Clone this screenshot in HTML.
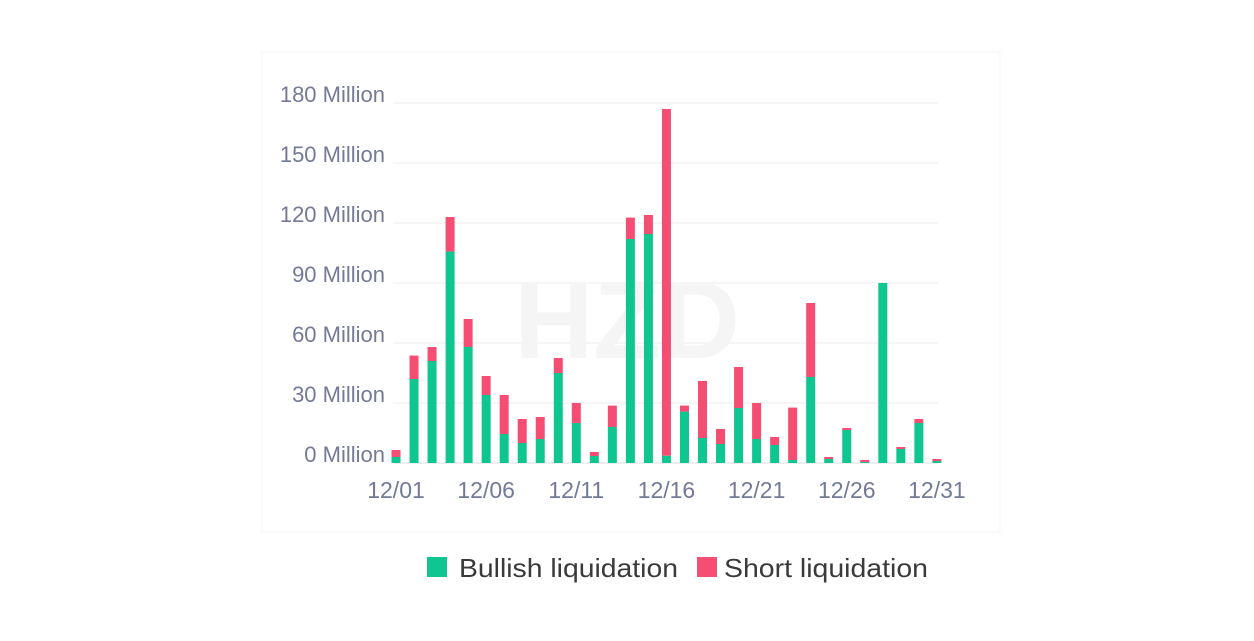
<!DOCTYPE html>
<html><head><meta charset="utf-8"><style>
html,body{margin:0;padding:0;background:#fff;}
svg{display:block;font-family:"Liberation Sans",sans-serif;}
</style></head><body>
<svg id="chart" width="1254" height="641">
  <rect x="262" y="52" width="738" height="480" fill="none" stroke="#fafafa" stroke-width="2"/>
  <text x="627" y="358" text-anchor="middle" font-size="110" font-weight="bold" fill="#f5f5f5">HZD</text>
  <g id="grid"></g>
  <g id="ylabels"></g>
  <g id="bars"></g>
  <g id="xlabels"></g>
  <g>
    <g>
      <rect x="427" y="557" width="20" height="20" fill="#0fc691"/>
      <text x="459" y="577" font-size="26" fill="#3a3a3a" textLength="219" lengthAdjust="spacingAndGlyphs">Bullish liquidation</text>
    </g>
    <g>
      <rect x="697" y="557" width="20" height="20" fill="#f64d72"/>
      <text x="724" y="577" font-size="26" fill="#3a3a3a" textLength="204" lengthAdjust="spacingAndGlyphs">Short liquidation</text>
    </g>
  </g>
</svg>
<script>
const days = ["12/01","12/02","12/03","12/04","12/05","12/06","12/07","12/08","12/09","12/10","12/11","12/12","12/13","12/14","12/15","12/16","12/17","12/18","12/19","12/20","12/21","12/22","12/23","12/24","12/25","12/26","12/27","12/28","12/29","12/30","12/31"];
const bullish = [3,42,51,105.7,58,34,14.5,10,12,45,20,3.5,18,112,114.5,3.6,25.7,12.5,9.5,27.5,12,9,1.5,43,2,16.5,0.5,90,7,20,1];
const totals = [6.5,53.7,58,123,72,43.5,34,22,23,52.5,30,5.5,28.7,122.7,124,177,28.7,41,17,48,30,13,27.7,80,3,17.5,1.5,90,8,22,2];
const yTicks = [0,30,60,90,120,150,180];
const xTickEvery = 5;

const NS="http://www.w3.org/2000/svg";
const y0=463, pxPerM=2, x0=396, step=18.03, bw=9;
const yScale=v=>y0-v*pxPerM;
const xScale=i=>x0+i*step;
function mk(tag,attrs,parent){const e=document.createElementNS(NS,tag);for(const k in attrs)e.setAttribute(k,attrs[k]);parent.appendChild(e);return e;}
const grid=document.getElementById('grid'),yl=document.getElementById('ylabels'),bars=document.getElementById('bars'),xl=document.getElementById('xlabels');
yTicks.forEach(t=>{
  const l=mk('line',{x1:393,x2:938,y1:yScale(t),y2:yScale(t),stroke:t===0?'#eeeeee':'#f5f5f5','stroke-width':2},grid);
  
  
  const tx=mk('text',{x:385,y:yScale(t)-1,'text-anchor':'end','font-size':22,fill:'#737a98'},yl);
  tx.textContent=t+' Million';
  
  
});
days.forEach((d,i)=>{
  const cx=xScale(i);
  const g=bullish[i], s=Math.max(0,totals[i]-g);
  const rs=mk('rect',{x:cx-bw/2,y:yScale(g+s),width:bw,height:s*pxPerM,fill:'#f64d72'},bars);
  
  
  const rg=mk('rect',{x:cx-bw/2,y:yScale(g),width:bw,height:g*pxPerM,fill:'#0fc691'},bars);
  
  
  if(i%xTickEvery===0){
    const tx=mk('text',{x:cx,y:498,'text-anchor':'middle','font-size':23,fill:'#737a98'},xl);
    tx.textContent=d;
    
    
  }
});
</script>
</body></html>
